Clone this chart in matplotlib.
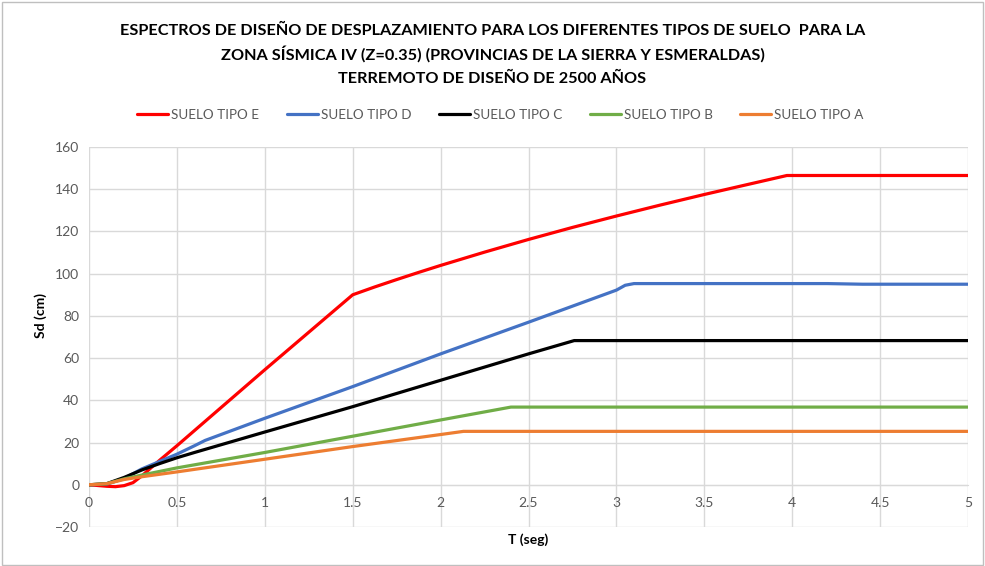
import matplotlib.pyplot as plt
from matplotlib.patches import Rectangle

plt.rcParams['font.family'] = ['Lato', 'DejaVu Sans']

# Espectros de desplazamiento, Sd (cm) vs T (seg)
t_e = [0, 0.1, 0.15, 0.2, 0.25, 0.3, 0.4, 0.5, 1.0, 1.5, 1.625, 1.75, 1.875, 2.0, 2.25, 2.5, 2.75, 3.0, 3.25, 3.5, 3.75, 3.97, 5.0]
sd_e = [0, -0.7, -0.9, -0.4, 1.0, 4.2, 11.5, 18.5, 54.5, 90, 93.7, 97.2, 100.6, 103.9, 110.2, 116.2, 121.9, 127.3, 132.5, 137.5, 142.3, 146.5, 146.5]

t_d = [0, 0.1, 0.2, 0.3, 0.4, 0.5, 0.6, 0.66, 1.0, 1.5, 2.0, 2.5, 3.0, 3.05, 3.1, 4.2, 4.4, 5.0]
sd_d = [0, 0.3, 3.0, 7.5, 11.0, 14.5, 18.5, 21.0, 31.5, 46.5, 62, 77, 92.2, 94.5, 95.3, 95.3, 95.0, 95.0]

t_c = [0, 0.1, 0.2, 0.3, 0.4, 0.5, 0.6, 1.0, 1.5, 2.0, 2.5, 2.76, 5.0]
sd_c = [0, 0.5, 3.5, 7.0, 10.0, 12.8, 15.3, 25.0, 37.0, 49.5, 62.0, 68.3, 68.3]

t_b = [0, 0.1, 0.2, 0.3, 0.5, 1.0, 1.5, 2.0, 2.4, 5.0]
sd_b = [0, 0.5, 2.8, 4.6, 8.0, 15.3, 23.0, 30.7, 36.8, 36.8]

t_a = [0, 0.1, 0.2, 0.3, 0.5, 1.0, 1.5, 2.0, 2.13, 5.0]
sd_a = [0, 0.5, 2.5, 3.8, 6.1, 12.1, 18.1, 23.8, 25.3, 25.3]

series = [
    ('SUELO TIPO E', t_e, sd_e, '#FF0000'),
    ('SUELO TIPO D', t_d, sd_d, '#4472C4'),
    ('SUELO TIPO C', t_c, sd_c, '#000000'),
    ('SUELO TIPO B', t_b, sd_b, '#70AD47'),
    ('SUELO TIPO A', t_a, sd_a, '#ED7D31'),
]

x_ticks = [0, 0.5, 1, 1.5, 2, 2.5, 3, 3.5, 4, 4.5, 5]
x_labels = ['0', '0.5', '1', '1.5', '2', '2.5', '3', '3.5', '4', '4.5', '5']
y_ticks = list(range(-20, 161, 20))

titulo = ['ESPECTROS DE DISEÑO DE DESPLAZAMIENTO PARA LOS DIFERENTES TIPOS DE SUELO  PARA LA',
          'ZONA SÍSMICA IV (Z=0.35) (PROVINCIAS DE LA SIERRA Y ESMERALDAS)',
          'TERREMOTO DE DISEÑO DE 2500 AÑOS']

fig = plt.figure(figsize=(9.85, 5.66), dpi=100)
ax = fig.add_axes([0.0904, 0.0689, 0.8923, 0.6714])

for nombre, t, sd, color in series:
    ax.plot(t, sd, color=color, lw=2.3, label=nombre, solid_capstyle='round', zorder=3)

ax.set_xlim(0, 5)
ax.set_ylim(-20, 160)
ax.set_xticks(x_ticks)
ax.set_xticklabels(x_labels)
ax.set_yticks(y_ticks)
ax.grid(True, color='#D9D9D9', lw=1.0)
ax.set_axisbelow(True)
for s in ['top', 'right', 'left']:
    ax.spines[s].set_visible(False)
ax.spines['bottom'].set_position(('data', 0))
ax.spines['bottom'].set_color('#D9D9D9')
ax.tick_params(length=0, labelsize=10, colors='#595959', pad=7)
ax.tick_params(axis='x', pad=9)

fig.text(0.5359, 0.046, 'T (seg)', ha='center', va='center', fontsize=10, fontweight='bold', color='#000000')
fig.text(0.041, 0.443, 'Sd (cm)', ha='center', va='center', rotation=90, fontsize=10, fontweight='bold', color='#000000')

# tres lineas de titulo, alineadas por la linea base
for linea, y in zip(titulo, [0.9373, 0.8949, 0.8542]):
    fig.text(0.5, y, linea, ha='center', va='baseline', fontsize=11.7, fontweight='bold', color='#000000')

fig.legend(loc='center', bbox_to_anchor=(0.508, 0.797), ncol=5, frameon=False,
           fontsize=9.75, handlelength=2.3, columnspacing=2.05, handletextpad=0.2,
           labelcolor='#595959')

fig.add_artist(Rectangle((0.002, 0.002), 0.996, 0.994, transform=fig.transFigure,
                         fill=False, edgecolor='#BFBFBF', lw=1.0))

fig.savefig('out.png', dpi=100)
